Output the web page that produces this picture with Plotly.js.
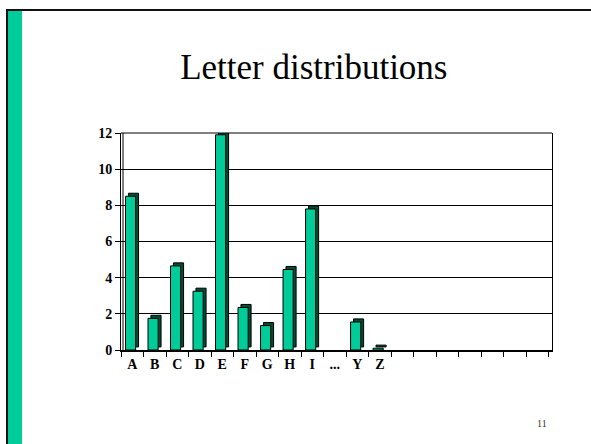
<!DOCTYPE html>
<html>
<head>
<meta charset="utf-8">
<script src="https://cdn.plot.ly/plotly-3.0.1.min.js"></script>
<style>
  html, body { margin: 0; padding: 0; background: #fff; }
  #slide { position: relative; width: 591px; height: 444px; overflow: hidden; background: #fff; }
  #frameTop { position: absolute; left: 6px; top: 9px; width: 585px; height: 2px; background: #111; }
  #frameLeft { position: absolute; left: 6px; top: 9px; width: 2px; height: 435px; background: #111; }
  #stripe { position: absolute; left: 8px; top: 11px; width: 14px; height: 433px; background: #00CC99; }
  #chart { position: absolute; left: 0; top: 0; width: 591px; height: 444px; }
</style>
</head>
<body>
<div id="slide">
  <div id="frameTop"></div>
  <div id="frameLeft"></div>
  <div id="stripe"></div>
  <div id="chart"></div>
</div>
<script>
// Letter frequencies (percent) shown on the slide
const letters = ['A', 'B', 'C', 'D', 'E', 'F', 'G', 'H', 'I', '...', 'Y', 'Z'];
const freq = [8.5, 1.75, 4.65, 3.25, 11.9, 2.35, 1.35, 4.45, 7.8, null, 1.55, 0.1];
// empty slots that follow Z on the category axis
const emptySlots = 7;
const yTicks = [0, 2, 4, 6, 8, 10, 12];

const pos = letters.map((_, i) => i);
const green = '#00CC99';
const darkGreen = '#004D36';
const serif = '"Liberation Serif", "Times New Roman", serif';

// depth face drawn behind the front face, shifted right and up
const depth = {
  type: 'bar', x: pos, y: freq, base: 0.17,
  width: 0.45, offset: -0.17,
  marker: { color: darkGreen, line: { color: '#000', width: 1 } },
  hoverinfo: 'skip', showlegend: false
};
const front = {
  type: 'bar', x: pos, y: freq,
  width: 0.45, offset: -0.3,
  marker: { color: green, line: { color: '#000', width: 1 } },
  showlegend: false
};

const layout = {
  width: 591, height: 444,
  margin: { l: 121, r: 39, t: 133, b: 94 },
  paper_bgcolor: 'rgba(0,0,0,0)',
  plot_bgcolor: 'rgba(0,0,0,0)',
  barmode: 'overlay',
  title: {
    text: 'Letter distributions',
    font: { family: serif, size: 35, color: '#000' },
    x: 0.531, xref: 'container', xanchor: 'center',
    y: 0.849, yref: 'container', yanchor: 'middle'
  },
  xaxis: {
    range: [-0.5, letters.length + emptySlots - 0.35],
    tickmode: 'array', tickvals: pos, ticktext: letters,
    ticks: '', showgrid: false, zeroline: false,
    showline: true, linecolor: '#000', linewidth: 2,
    tickfont: { family: serif, size: 14, color: '#000', weight: 'bold' },
    minor: { tick0: -0.5, dtick: 1, ticks: 'outside', ticklen: 5, tickwidth: 1, tickcolor: '#000', showgrid: false }
  },
  yaxis: {
    range: [0, 12],
    tickmode: 'array', tickvals: yTicks,
    ticks: 'outside', ticklen: 5, tickwidth: 1, tickcolor: '#000',
    showgrid: true, gridcolor: '#000', gridwidth: 1,
    zeroline: false,
    showline: true, linecolor: '#000', linewidth: 1, mirror: true,
    tickfont: { family: serif, size: 14, color: '#000', weight: 'bold' }
  },
  shapes: [
    // inner wall line alongside the value axis
    { type: 'line', xref: 'x domain', yref: 'y domain', xsizemode: 'pixel', xanchor: 0,
      x0: 2, x1: 2, y0: 0, y1: 1, line: { color: '#000', width: 1 } },
    // top edge of the plot box
    { type: 'line', xref: 'x domain', yref: 'y domain',
      x0: 0, x1: 1, y0: 1, y1: 1, line: { color: '#000', width: 1 } }
  ],
  annotations: [
    { text: '11', xref: 'paper', yref: 'paper', x: 0.977, y: -0.338,
      xanchor: 'center', yanchor: 'middle', showarrow: false,
      font: { family: serif, size: 10, color: '#333' } }
  ]
};

Plotly.newPlot('chart', [depth, front], layout, { displayModeBar: false, staticPlot: true });
</script>
</body>
</html>
